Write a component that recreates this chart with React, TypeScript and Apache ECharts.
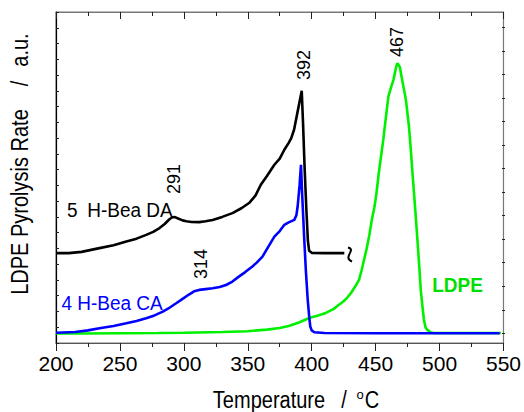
import React, { useEffect, useRef } from "react";
import * as echarts from "echarts";

const xTicks = [200, 250, 300, 350, 400, 450, 500, 550];

const ldpeT = [200, 220, 250, 280, 300, 330, 350, 365, 375, 382, 390, 398, 405, 411, 417, 421, 425, 428, 431, 434, 437, 439, 441, 443, 445, 447, 449, 450.5, 452.5, 456, 458, 460, 462, 464, 466, 467, 469, 470.7, 473.3, 474, 476, 477.5, 478.8, 480.5, 482.7, 484, 485.3, 486.5, 487.8, 489, 490.5, 493, 495.4, 520, 548];
const ldpeV = [0.6, 0.6, 0.62, 0.63, 0.65, 0.7, 0.75, 0.85, 0.95, 1.08, 1.3, 1.59, 1.75, 1.91, 2.15, 2.41, 2.65, 2.9, 3.2, 3.58, 4.0, 4.6, 5.3, 6.0, 6.8, 7.8, 8.6, 9.4, 10.8, 12.9, 14.3, 15.65, 16.2, 16.71, 17.5, 17.76, 17.5, 16.71, 15.6, 15.2, 13.8, 12.3, 10.8, 9.0, 6.54, 5.0, 3.37, 2.4, 1.46, 1.0, 0.83, 0.68, 0.635, 0.63, 0.63];

const caT = [200, 215, 225, 234, 245, 255, 263, 270.5, 277, 283.5, 289, 294, 299, 304.3, 308, 312, 317, 322.5, 328, 333, 338, 343, 348, 353.6, 357, 361.5, 366, 370.8, 375, 378.6, 382, 386.4, 388, 389, 390.5, 391.6, 392.5, 394.2, 395.5, 396.9, 398, 398.9, 400, 402, 410, 450, 500, 547];
const caV = [0.65, 0.7, 0.8, 0.93, 1.08, 1.25, 1.4, 1.57, 1.75, 1.99, 2.25, 2.52, 2.8, 3.09, 3.28, 3.37, 3.42, 3.47, 3.55, 3.68, 3.9, 4.21, 4.5, 4.85, 5.1, 5.48, 6.1, 6.75, 7.1, 7.5, 7.65, 7.81, 8.1, 8.66, 10.0, 11.31, 9.5, 6.54, 4.5, 2.73, 1.7, 1.04, 0.8, 0.68, 0.63, 0.62, 0.62, 0.62];

const daT = [200, 210, 220, 234, 245, 255, 263, 270.5, 276, 281, 285, 288.7, 291, 293, 296, 299, 302, 306, 312, 317, 322.5, 330, 338, 345, 351, 356, 360.2, 365, 370.8, 375, 378.6, 382, 384, 386.2, 388.8, 390.5, 392.2, 393.2, 394.5, 395.8, 397, 398, 400, 410, 420, 425.5];
const daV = [5.7, 5.7, 5.78, 6.02, 6.2, 6.44, 6.62, 6.86, 7.05, 7.29, 7.55, 7.85, 7.98, 7.99, 7.88, 7.78, 7.72, 7.68, 7.67, 7.72, 7.81, 8.0, 8.24, 8.55, 8.88, 9.35, 10.04, 10.6, 11.31, 11.7, 12.26, 12.7, 13.0, 13.53, 14.6, 15.3, 16.0, 14.0, 11.0, 8.5, 6.5, 5.85, 5.72, 5.7, 5.7, 5.7];

const peakLabels = [
  { text: "392", x: 304, y: 65 },
  { text: "467", x: 397, y: 42 },
  { text: "291", x: 174, y: 179 },
  { text: "314", x: 201, y: 264 },
];

const FONT = "'Liberation Sans', Arial, Helvetica, sans-serif";

function zip(a: number[], b: number[]) {
  return a.map((t, i) => [t, b[i]]);
}

export default function App() {
  const ref = useRef<HTMLDivElement>(null);
  useEffect(() => {
    if (!ref.current) return;
    const chart = echarts.init(ref.current, undefined, { renderer: "svg" });
    const gridBox = { left: 56, right: 19, top: 12, bottom: 69 };
    const rot = (text: string, x: number, y: number, size: number, sy = 1, color = "#000", weight = "normal") => ({
      type: "text",
      x,
      y,
      rotation: Math.PI / 2,
      scaleY: sy,
      style: { text, fontSize: size, fontFamily: FONT, fontWeight: weight, fill: color, align: "center", verticalAlign: "middle" },
    });
    const txt = (text: string, x: number, y: number, size: number, sy = 1, color = "#000", weight = "normal") => ({
      type: "text",
      x,
      y,
      scaleY: sy,
      style: { text, fontSize: size, fontFamily: FONT, fontWeight: weight, fill: color, align: "center", verticalAlign: "middle" },
    });
    chart.setOption({
      animation: false,
      backgroundColor: "#fff",
      grid: [
        { ...gridBox, show: true, borderColor: "#777", borderWidth: 1.2, backgroundColor: "transparent" },
        { left: 56, right: 19, top: 27.3, bottom: 412 - 333.3 },
      ],
      xAxis: [
        {
          type: "value", gridIndex: 0, position: "bottom", min: 200, max: 550, interval: 50,
          axisLine: { show: true, lineStyle: { color: "#555", width: 1.2 } },
          axisTick: { show: true, inside: false, length: 8, lineStyle: { color: "#222" } },
          minorTick: { show: true, splitNumber: 2, length: 4, lineStyle: { color: "#222" } },
          splitLine: { show: false }, minorSplitLine: { show: false },
          axisLabel: { show: true, fontSize: 21, fontFamily: FONT, color: "#000", margin: 10, customValues: xTicks },
        },
        {
          type: "value", gridIndex: 0, position: "top", min: 200, max: 550, interval: 50,
          axisLine: { show: true, lineStyle: { color: "#777", width: 1.2 } },
          axisTick: { show: true, inside: true, length: 7, lineStyle: { color: "#222" } },
          minorTick: { show: true, splitNumber: 2, length: 4, lineStyle: { color: "#222" } },
          splitLine: { show: false },
          axisLabel: { show: false },
        },
        { type: "value", gridIndex: 1, min: 200, max: 550, show: false },
      ],
      yAxis: [
        {
          type: "value", gridIndex: 0, position: "left", min: 0, max: 21, interval: 1,
          axisLine: { show: true, lineStyle: { color: "#000", width: 1.2 } },
          axisTick: { show: true, inside: true, length: 3, lineStyle: { color: "#222" } },
          splitLine: { show: false },
          axisLabel: { show: false },
        },
        {
          type: "value", gridIndex: 1, position: "right", min: 0, max: 13, interval: 1,
          axisLine: { show: false },
          axisTick: { show: true, inside: true, length: 3, lineStyle: { color: "#222" } },
          splitLine: { show: false },
          axisLabel: { show: false },
        },
      ],
      series: [
        {
          name: "LDPE", type: "line", xAxisIndex: 0, yAxisIndex: 0, data: zip(ldpeT, ldpeV),
          showSymbol: false, lineStyle: { color: "#00f000", width: 2.6 }, z: 2,
        },
        {
          name: "4 H-Bea CA", type: "line", xAxisIndex: 0, yAxisIndex: 0, data: zip(caT, caV),
          showSymbol: false, lineStyle: { color: "#0000ff", width: 2.6 }, z: 3,
        },
        {
          name: "5 H-Bea DA", type: "line", xAxisIndex: 0, yAxisIndex: 0, data: zip(daT, daV),
          showSymbol: false, lineStyle: { color: "#000000", width: 2.6 }, z: 4,
        },
      ],
      graphic: [
        // y-axis title
        rot("LDPE Pyrolysis Rate", 20, 202, 20, 1.15),
        rot("/", 20, 83.5, 20, 1.15),
        rot("a.u.", 20, 50, 20, 1.15),
        // x-axis title
        txt("Temperature", 269, 400, 20, 1.15),
        txt("/", 344, 400, 20, 1.15),
        txt("o", 360, 394, 13),
        txt("C", 372, 400, 20, 1.15),
        // peak labels
        ...peakLabels.map((p) => rot(p.text, p.x, p.y, 18)),
        // series labels
        txt("5", 72.3, 209.5, 19, 1.07),
        txt("H-Bea DA", 130, 209.5, 19, 1.07),
        txt("4", 66.7, 302.5, 19, 1.07, "#0000ff"),
        txt("H-Bea CA", 120, 302.5, 19, 1.07, "#0000ff"),
        txt("LDPE", 457.5, 284.5, 19, 1.07, "#00e000", "bold"),
        {
          type: "bezierCurve",
          shape: { x1: 348, y1: 247.5, x2: 352, y2: 261.5, cpx1: 357, cpy1: 250, cpx2: 342, cpy2: 257 },
          style: { stroke: "#000", lineWidth: 2, fill: "none" },
        },
      ],
    });
    return () => chart.dispose();
  }, []);
  return <div ref={ref} style={{ position: "fixed", left: 0, top: 0, width: 524, height: 412 }} />;
}
